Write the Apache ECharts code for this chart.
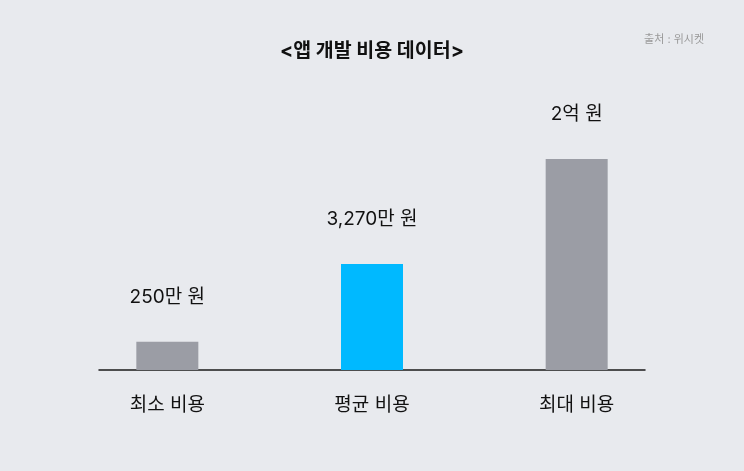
<!DOCTYPE html>
<html>
<head>
<meta charset="utf-8">
<script src="https://cdn.jsdelivr.net/npm/echarts@6/dist/echarts.min.js"></script>
<style>
  html, body { margin: 0; padding: 0; background: #e8eaee; }
  #chart { width: 744px; height: 471px; }
</style>
</head>
<body>
<div id="chart"></div>
<script>
// Categories and values (bar heights relative to the tallest bar = 100, as drawn)
const categories = ['최소 비용', '평균 비용', '최대 비용'];
const barValues = [13.4, 50.2, 100];
const valueLabels = ['250만 원', '3,270만 원', '2억 원'];
const barColors = ['#9b9da5', '#00b9ff', '#9b9da5'];
const titleText = '<앱 개발 비용 데이터>';
const sourceText = '출처 : 위시켓';

const FONT = "Inter, 'Noto Sans CJK KR', sans-serif";
const chart = echarts.init(document.getElementById('chart'));
chart.setOption({
  backgroundColor: '#e8eaee',
  animation: false,
  title: [
    {
      text: titleText, left: 'center', top: 41, padding: 0,
      textStyle: { fontFamily: FONT, fontSize: 19.5, fontWeight: 'bold', color: '#111' }
    },
    {
      text: sourceText, right: 40, top: 34, padding: 0,
      textStyle: { fontFamily: FONT, fontSize: 11, fontWeight: 'normal', color: '#9a9a9a' }
    }
  ],
  grid: [
    { left: 65, right: 65, top: 159, bottom: 101 },
    { left: 99, right: 99, top: 159, bottom: 101 }
  ],
  xAxis: [
    {
      type: 'category', gridIndex: 0, data: categories,
      axisLine: { show: false }, axisTick: { show: false },
      axisLabel: { margin: 26, fontSize: 19, color: '#111', fontFamily: FONT }
    },
    {
      type: 'value', gridIndex: 1, min: 0, max: 1,
      axisLine: { show: true, lineStyle: { color: '#1a1a1a', width: 1.5 } },
      axisTick: { show: false }, axisLabel: { show: false }, splitLine: { show: false }
    }
  ],
  yAxis: [
    { type: 'value', gridIndex: 0, min: 0, max: 100, show: false, splitLine: { show: false } },
    { type: 'value', gridIndex: 1, min: 0, max: 1, show: false, splitLine: { show: false } }
  ],
  series: [
    {
      type: 'bar', xAxisIndex: 0, yAxisIndex: 0, barWidth: 62,
      data: barValues.map((v, i) => ({ value: v, itemStyle: { color: barColors[i] } })),
      label: {
        show: true, position: 'top', distance: 35,
        formatter: p => valueLabels[p.dataIndex],
        fontSize: 19, color: '#111', fontFamily: FONT
      }
    }
  ]
});
</script>
</body>
</html>
